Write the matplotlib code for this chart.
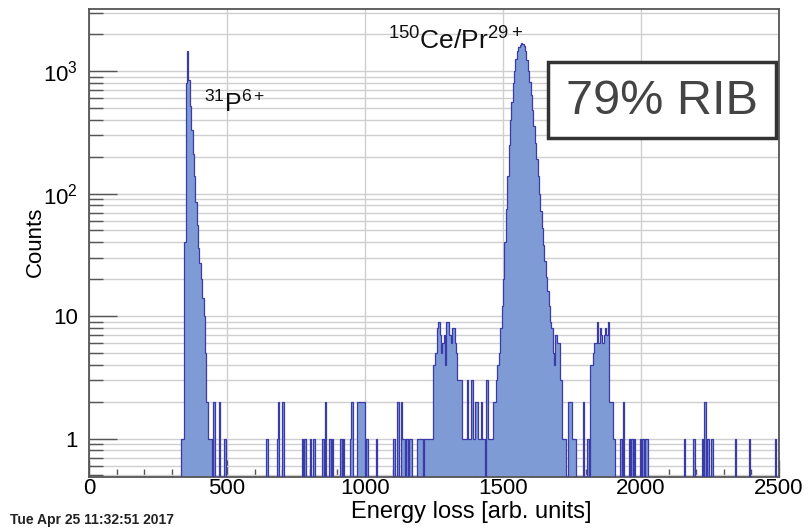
import numpy as np
import matplotlib
matplotlib.use('Agg')
import matplotlib.pyplot as plt
from matplotlib.ticker import LogLocator, FixedLocator, FixedFormatter, NullFormatter, MultipleLocator
from matplotlib.patches import Rectangle

# ---------------- data (bin left edge [arb. units], counts) ----------------
bin_width = 5
x_range = (0, 2500)

# 31P6+ peak
p31_E = [335, 340, 345, 350, 355, 360, 365, 370, 375, 380, 385, 390, 395, 400,
         405, 410, 415, 420, 425, 430, 435, 440]
p31_counts = [1, 1, 40, 800, 1450, 850, 520, 330, 210, 140, 85, 55, 36, 27,
              20, 14, 10, 5, 2, 1, 1, 1]

# 150Ce/Pr29+ peak
ce_E = [1465, 1470, 1475, 1480, 1485, 1490, 1495, 1500, 1505, 1510, 1515, 1520,
        1525, 1530, 1535, 1540, 1545, 1550, 1555, 1560, 1565, 1570, 1575, 1580,
        1585, 1590, 1595, 1600, 1605, 1610, 1615, 1620, 1625, 1630, 1635, 1640,
        1645, 1650, 1655, 1660, 1665, 1670, 1675, 1680, 1685, 1690, 1695, 1700,
        1705, 1710, 1715, 1720, 1725, 1735, 1740, 1745, 1750, 1755, 1760]
ce_counts = [2, 2, 3, 4, 5, 8, 12, 20, 40, 75, 140, 250,
             400, 560, 800, 1000, 1250, 1450, 1580, 1650, 1700, 1680, 1600, 1450,
             1230, 1000, 820, 640, 480, 360, 260, 190, 140, 100, 72, 52,
             38, 28, 21, 16, 12, 9, 8, 5, 4, 7, 6, 6,
             3, 3, 1, 1, 1, 2, 2, 2, 1, 1, 1]

# cluster around 1300
mid_E = [1240, 1245, 1250, 1255, 1260, 1265, 1270, 1275, 1280, 1285, 1290, 1295,
         1300, 1305, 1310, 1315, 1320, 1325, 1330, 1335, 1340, 1345, 1350, 1355,
         1360, 1365, 1370, 1375, 1380, 1385, 1390, 1395, 1400, 1405, 1410, 1415,
         1420, 1425, 1430, 1440, 1445, 1450, 1455, 1460]
mid_counts = [1, 4, 4, 5, 8, 9, 7, 5, 6, 7, 4, 9,
              9, 7, 6, 8, 8, 6, 5, 3, 3, 3, 1, 1,
              1, 1, 3, 1, 1, 3, 1, 1, 2, 2, 1, 1,
              2, 1, 1, 3, 1, 1, 1, 1]

# cluster around 1850
right_E = [1790, 1805, 1815, 1820, 1825, 1830, 1835, 1840, 1845, 1850, 1855, 1860,
           1865, 1870, 1875, 1880, 1885, 1890, 1895, 1900]
right_counts = [2, 1, 4, 4, 5, 6, 6, 9, 6, 8, 7, 6,
                7, 8, 7, 9, 2, 2, 2, 1]

# isolated events
bg_E = [450, 470, 490, 640, 645, 680, 685, 700, 770, 780, 800, 810, 815, 845,
        855, 870, 880, 910, 920, 945, 950, 970, 975, 980, 985, 990, 995, 1005,
        1040, 1100, 1105, 1115, 1120, 1130, 1135, 1140, 1150, 1160, 1165, 1190,
        1195, 1200, 1205, 1215, 1220, 1225, 1230, 1235, 1925, 1935, 1955, 1965,
        1975, 1995, 2005, 2015, 2020, 2155, 2190, 2220, 2230, 2240, 2255, 2340,
        2390, 2485]
bg_counts = [2, 2, 1, 1, 1, 1, 2, 2, 1, 1, 1, 1, 1, 1,
             2, 1, 1, 1, 1, 1, 2, 2, 2, 2, 2, 2, 2, 1,
             1, 1, 1, 2, 2, 2, 1, 1, 1, 1, 1, 1,
             1, 1, 1, 1, 1, 1, 1, 1, 1, 2, 1, 1,
             1, 1, 1, 1, 1, 1, 1, 1, 2, 1, 1, 1,
             1, 1]

y_tick_vals = [1, 10, 100, 1000]
y_tick_labels = ['1', '10', r'$10^{2}$', r'$10^{3}$']
x_tick_vals = [0, 500, 1000, 1500, 2000, 2500]

# ---------------- build histogram ----------------
edges = np.arange(x_range[0], x_range[1] + bin_width, bin_width)
counts = np.zeros(len(edges) - 1)
for Es, Cs in [(p31_E, p31_counts), (ce_E, ce_counts), (mid_E, mid_counts),
               (right_E, right_counts), (bg_E, bg_counts)]:
    for e, c in zip(Es, Cs):
        counts[int(round(e / bin_width))] = c

# ---------------- figure ----------------
plt.rcParams['font.family'] = ['Liberation Sans', 'DejaVu Sans']
plt.rcParams['mathtext.fontset'] = 'custom'
plt.rcParams['mathtext.rm'] = 'Liberation Sans'
plt.rcParams['mathtext.it'] = 'Liberation Sans'
plt.rcParams['mathtext.bf'] = 'Liberation Sans:bold'

W, H = 809, 529
fig = plt.figure(figsize=(W / 100, H / 100), dpi=100)
L, R, T, B = 89, 779, 9.3, 476.5
ax = fig.add_axes([L / W, 1 - B / H, (R - L) / W, (B - T) / H])

floor = 0.05
vals = np.where(counts > 0, counts, floor)
ax.stairs(vals, edges, baseline=floor, fill=True, color='#7f9bd6', lw=0, zorder=2)
ax.stairs(vals, edges, baseline=floor, color='#3a3aa8', lw=0.9, zorder=3)

ax.set_yscale('log')
ax.set_xlim(*x_range)
ax.set_ylim(0.49, 3200)

ax.yaxis.set_major_locator(FixedLocator(y_tick_vals))
ax.yaxis.set_major_formatter(FixedFormatter(y_tick_labels))
ax.yaxis.set_minor_locator(LogLocator(base=10, subs=np.arange(2, 10)))
ax.yaxis.set_minor_formatter(NullFormatter())
ax.xaxis.set_major_locator(FixedLocator(x_tick_vals))
ax.xaxis.set_minor_locator(MultipleLocator(100))

ax.grid(which='both', axis='y', color='#cfcfcf', lw=1.0, zorder=0)
ax.grid(which='major', axis='x', color='#cfcfcf', lw=1.0, zorder=0)
ax.set_axisbelow(True)

ax.tick_params(axis='y', which='major', direction='in', length=20, width=1, color='#555555',
               labelsize=16, pad=8)
ax.tick_params(axis='y', which='minor', direction='in', length=10, width=1, color='#555555')
ax.tick_params(axis='x', which='major', direction='in', length=12, width=1, color='#555555',
               labelsize=16, pad=1)
ax.tick_params(axis='x', which='minor', direction='in', length=6, width=1, color='#555555')
for s in ax.spines.values():
    s.set_color('#555555')
    s.set_linewidth(1.3)

fig.text(471 / W, 1 - 512 / H, 'Energy loss [arb. units]', ha='center', va='center',
         fontsize=17)
fig.text(35 / W, 1 - 242 / H, 'Counts', ha='center', va='center', rotation=90,
         fontsize=16)
fig.text(10 / W, 1 - 520 / H, 'Tue Apr 25 11:32:51 2017', ha='left', va='center',
         fontsize=10, fontweight='bold', color='#222222',
         family=['Liberation Sans Narrow', 'Liberation Sans'])

# peak labels
ax.text(418, 460, r'$^{31}$P$^{6+}$', fontsize=18, ha='left', va='baseline', color='#111111')
ax.text(1083, 1500, r'$^{150}$Ce/Pr$^{29+}$', fontsize=19, ha='left', va='baseline',
        color='#111111')

# RIB box
fig.patches.append(Rectangle((548 / W, 1 - 138 / H), (776 - 548) / W, (138 - 62) / H,
                             transform=fig.transFigure, facecolor='white',
                             edgecolor='#333333', lw=2.5, zorder=5))
fig.text(662 / W, 1 - 101 / H, '79% RIB', ha='center', va='center', fontsize=35,
         color='#444444', zorder=6)

fig.savefig('out.png', dpi=100)
